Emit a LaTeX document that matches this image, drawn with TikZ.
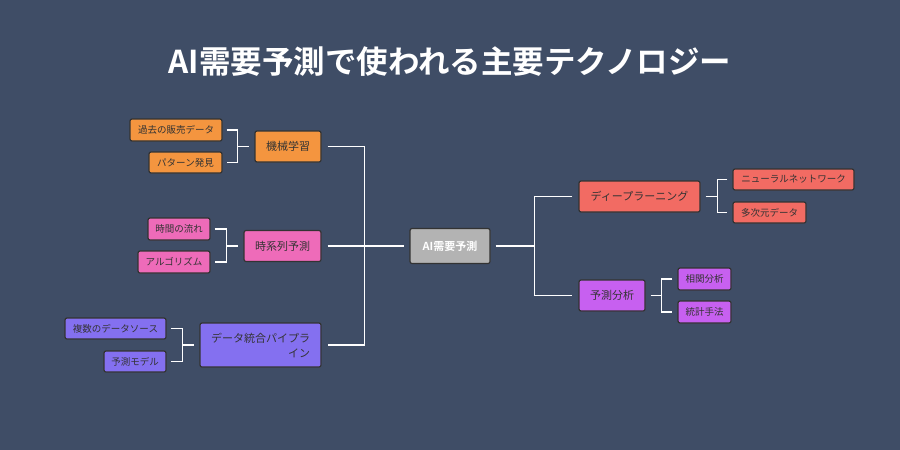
\documentclass[tikz,border=0pt]{standalone}
\usepackage{fontspec}
\setmainfont{Noto Sans CJK JP}
\newfontfamily\cjkb{Noto Sans CJK JP Bold}
\begin{document}
\begin{tikzpicture}[x=1pt,y=-1pt,
  box/.style={draw=black!80,line width=1.2pt,rounded corners=2pt,inner sep=0pt,text=black!80},
  ch/.style={box,font=\fontsize{9.5}{11}\selectfont},
  pr/.style={box,font=\fontsize{11}{15}\selectfont},
  ln/.style={draw=white,line width=1.5pt}]
\definecolor{bg}{HTML}{3F4D66}
\definecolor{cor}{HTML}{F4953F}
\definecolor{cpk}{HTML}{EE6BB9}
\definecolor{cpu}{HTML}{8470F0}
\definecolor{cgr}{HTML}{B3B3B3}
\definecolor{crd}{HTML}{F26B63}
\definecolor{cvi}{HTML}{C760F0}
\fill[bg] (0,0) rectangle (900,450);
\useasboundingbox (0,0) rectangle (900,450);
\node[font=\cjkb\fontsize{31.5}{36}\selectfont,text=white] (title) at (450,62) {AI需要予測で使われる主要テクノロジー};
% left
\node[ch,fill=cor,minimum width=92pt,minimum height=22pt] (c1) at (176,130) {過去の販売データ};
\node[ch,fill=cor,minimum width=73pt,minimum height=21pt] (c2) at (185.5,162.5) {パターン発見};
\node[pr,fill=cor,minimum width=66pt,minimum height=31pt] (ml) at (288,146.5) {機械学習};
\node[ch,fill=cpk,minimum width=62pt,minimum height=22pt] (c3) at (179,229) {時間の流れ};
\node[ch,fill=cpk,minimum width=72pt,minimum height=22pt] (c4) at (174,262) {アルゴリズム};
\node[pr,fill=cpk,minimum width=77pt,minimum height=31pt] (ts) at (282.5,246) {時系列予測};
\node[ch,fill=cpu,minimum width=101pt,minimum height=21pt] (c5) at (115.5,328.5) {複数のデータソース};
\node[ch,fill=cpu,minimum width=62pt,minimum height=21pt] (c6) at (135,361.5) {予測モデル};
\node[pr,fill=cpu,minimum width=121pt,minimum height=44pt,align=right] (dp) at (260.5,345) {データ統合パイプラ\\イン};
% center
\node[box,fill=cgr,text=white,font=\cjkb\fontsize{11}{13}\selectfont,minimum width=80pt,minimum height=35pt] (ai) at (450,246) {AI需要予測};
% right
\node[pr,fill=crd,minimum width=121pt,minimum height=31pt] (dl) at (639.5,196.5) {ディープラーニング};
\node[ch,fill=crd,minimum width=121pt,minimum height=21pt] (nn) at (793.5,179.5) {ニューラルネットワーク};
\node[ch,fill=crd,minimum width=73pt,minimum height=21pt] (md) at (769.5,212.5) {多次元データ};
\node[pr,fill=cvi,minimum width=66pt,minimum height=31pt] (pa) at (612,295.5) {予測分析};
\node[ch,fill=cvi,minimum width=53pt,minimum height=22pt] (r1) at (704.5,279) {相関分析};
\node[ch,fill=cvi,minimum width=53pt,minimum height=22pt] (r2) at (704.5,312) {統計手法};
% connectors
\foreach \a/\b/\p in {c1/c2/ml,c3/c4/ts,c5/c6/dp}{
  \draw[ln] ([xshift=4pt]\a.east) -| ([xshift=-17pt]\p.west) |- ([xshift=4pt]\b.east);
  \draw[ln] ([xshift=-17pt]\p.west) -- ([xshift=-5pt]\p.west);
}
\draw[ln] ([xshift=6pt]ml.east) -| ([xshift=-45pt]ai.west) |- ([xshift=6pt]dp.east);
\draw[ln] ([xshift=6pt]ts.east) -- ([xshift=-5pt]ai.west);
\draw[ln] ([xshift=-6pt]dl.west) -| ([xshift=44pt]ai.east) |- ([xshift=-6pt]pa.west);
\draw[ln] ([xshift=5pt]ai.east) -- ([xshift=44pt]ai.east);
\draw[ln] ([xshift=-5pt]nn.west) -| ([xshift=17pt]dl.east) |- ([xshift=-5pt]md.west);
\draw[ln] ([xshift=5pt]dl.east) -- ([xshift=17pt]dl.east);
\draw[ln] ([xshift=-5pt]r1.west) -| ([xshift=16pt]pa.east) |- ([xshift=-5pt]r2.west);
\draw[ln] ([xshift=5pt]pa.east) -- ([xshift=16pt]pa.east);
\end{tikzpicture}
\end{document}
